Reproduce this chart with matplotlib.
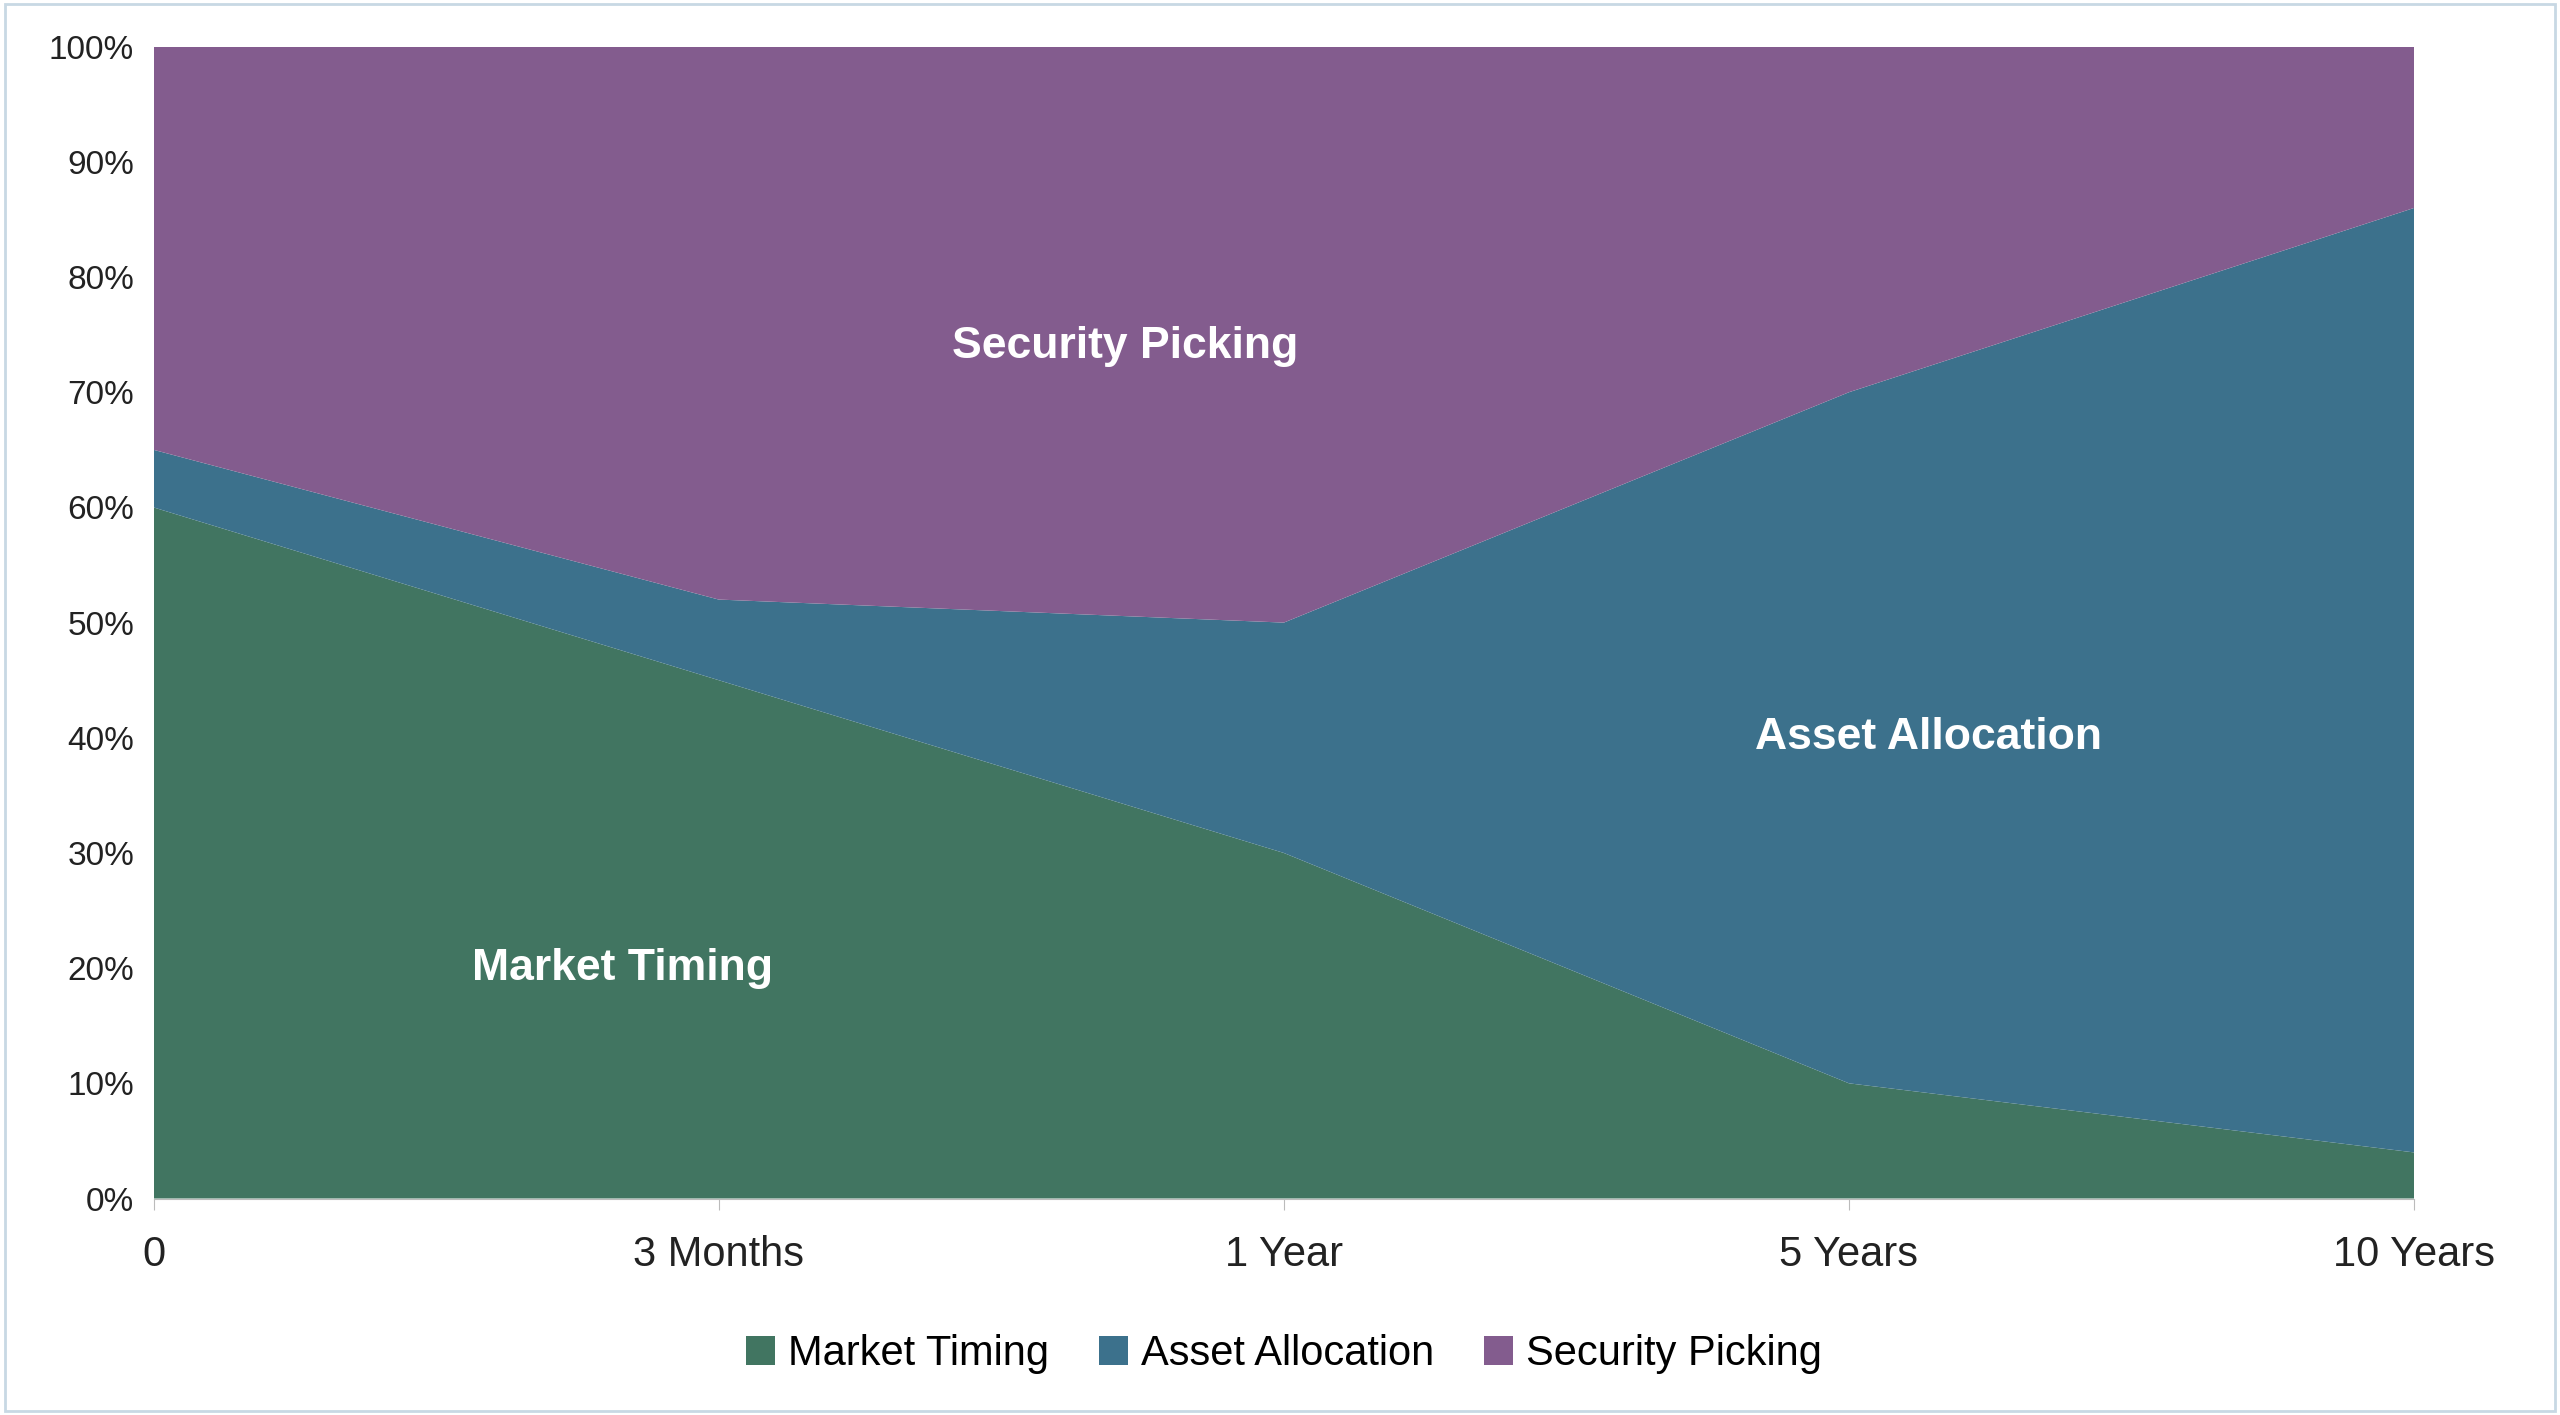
import matplotlib.pyplot as plt
from matplotlib.patches import Rectangle

# Data
periods = ["0", "3 Months", "1 Year", "5 Years", "10 Years"]
market_timing = [60, 45, 30, 10, 4]
asset_allocation = [5, 7, 20, 60, 82]
security_picking = [35, 48, 50, 30, 14]

colors = ["#417561", "#3c718c", "#835c8e"]
labels = ["Market Timing", "Asset Allocation", "Security Picking"]

plt.rcParams["font.family"] = ["Liberation Sans", "DejaVu Sans"]

fig = plt.figure(figsize=(25.6, 14.15), dpi=100)
ax = fig.add_axes([0.060, 0.153, 0.883, 0.814])

x = range(len(periods))
ax.stackplot(x, market_timing, asset_allocation, security_picking,
             colors=colors, labels=labels, linewidth=0)

ax.set_xlim(0, len(periods) - 1)
ax.set_ylim(0, 100)
ax.set_yticks(range(0, 101, 10))
ax.set_yticklabels([f"{v}%" for v in range(0, 101, 10)], fontsize=24, color="#222222")
ax.set_xticks(list(x))
ax.set_xticklabels(periods, fontsize=30, color="#222222")
ax.tick_params(axis="y", length=0, pad=14)
ax.tick_params(axis="x", length=8, color="#bbbbbb", pad=18)
for s in ["top", "right", "left"]:
    ax.spines[s].set_visible(False)
ax.spines["bottom"].set_color("#bbbbbb")

# Labels inside the areas
ax.text(0.83, 20, "Market Timing", color="white", fontsize=32, fontweight="bold", ha="center", va="center")
ax.text(1.72, 74, "Security Picking", color="white", fontsize=32, fontweight="bold", ha="center", va="center")
ax.text(3.14, 40, "Asset Allocation", color="white", fontsize=32, fontweight="bold", ha="center", va="center")

ax.legend(loc="upper center", bbox_to_anchor=(0.5, -0.085), ncol=3, frameon=False,
          fontsize=30, handlelength=0.7, handleheight=0.7, handletextpad=0.3, columnspacing=1.2)

# Light border around the figure
fig.patches.append(Rectangle((0.002, 0.003), 0.996, 0.994, transform=fig.transFigure,
                             fill=False, edgecolor="#c8d8e4", linewidth=2))

fig.savefig("out.png", dpi=100)
